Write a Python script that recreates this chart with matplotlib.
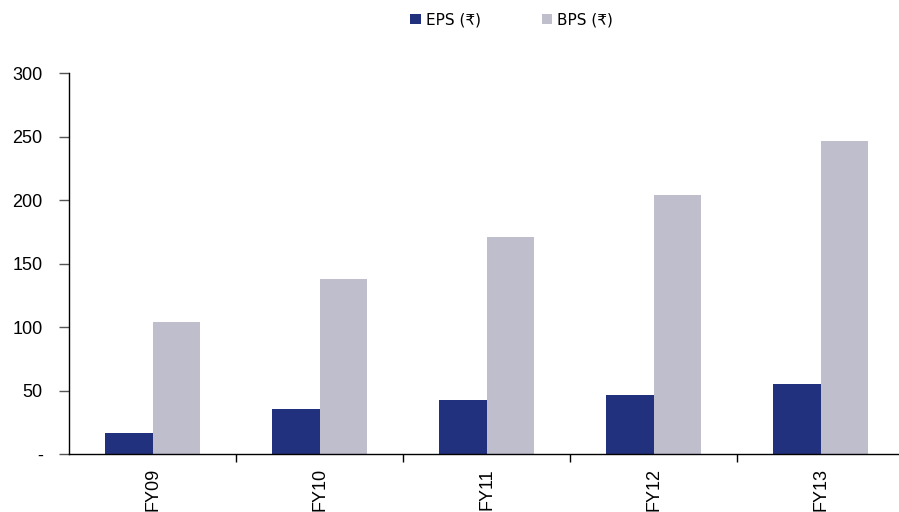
import matplotlib
matplotlib.use("Agg")
import matplotlib.pyplot as plt
import numpy as np
from matplotlib.patches import Patch
from matplotlib.ticker import FixedLocator, NullFormatter

years = ["FY09", "FY10", "FY11", "FY12", "FY13"]
eps = [17, 35.5, 42.5, 47, 55.5]
bps = [104, 138, 171, 204.5, 247]
series_names = ["EPS (\u20b9)", "BPS (\u20b9)"]
colors = ["#21317D", "#BEBECC"]
yticks = [0, 50, 100, 150, 200, 250, 300]
ytick_labels = ["-", "50", "100", "150", "200", "250", "300"]

fig = plt.figure(figsize=(8.99, 5.12), dpi=100)
ax = fig.add_axes([0.0768, 0.1127, 0.9232, 0.7441])

x = np.arange(len(years))
w = 0.287
ax.bar(x - w / 2, eps, width=w, color=colors[0], edgecolor="none")
ax.bar(x + w / 2, bps, width=w, color=colors[1], edgecolor="none")

ax.set_xlim(-0.5, 4.47)
ax.set_ylim(0, 300)

for s in ["top", "right"]:
    ax.spines[s].set_visible(False)
for s in ["left", "bottom"]:
    ax.spines[s].set_color("black")
    ax.spines[s].set_linewidth(1.0)

tick_font = {"family": "Liberation Sans", "size": 13}
ax.set_yticks(yticks)
ax.set_yticklabels(ytick_labels, fontdict=tick_font)
ax.tick_params(axis="y", direction="out", length=7, width=1, color="#555555", pad=12)

# category labels at centers without marks; boundary marks at minor ticks
ax.set_xticks(x)
ax.set_xticklabels(years, rotation=90, fontdict=tick_font)
ax.tick_params(axis="x", which="major", length=0, pad=10)
ax.xaxis.set_minor_locator(FixedLocator(x[:-1] + 0.5))
ax.xaxis.set_minor_formatter(NullFormatter())
ax.tick_params(axis="x", which="minor", direction="out", length=6, width=1, color="black")

handles = [Patch(facecolor=c, edgecolor="none") for c in colors]
fig.legend(handles, series_names, loc="center", bbox_to_anchor=(0.569, 0.961),
           ncol=2, frameon=False, prop={"family": "DejaVu Sans", "size": 11},
           handlelength=0.7, handleheight=0.7, handletextpad=0.3, columnspacing=4.0)

fig.savefig("out.png", dpi=100)
